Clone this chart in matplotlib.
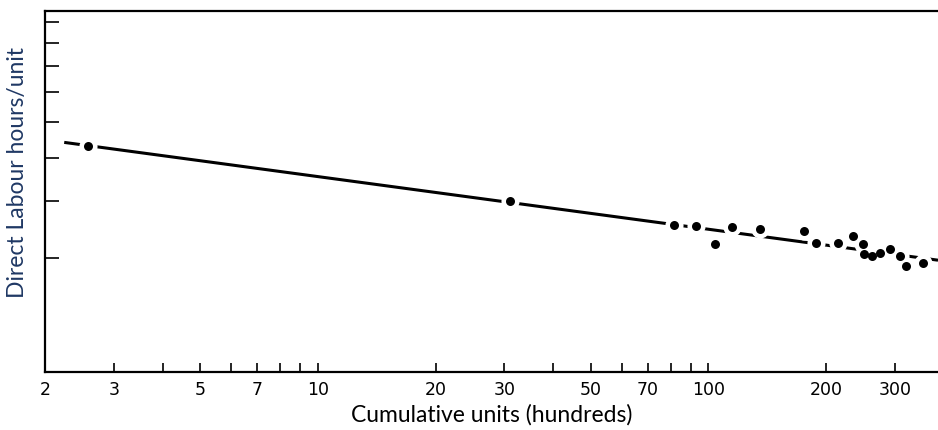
import matplotlib
matplotlib.use('Agg')
import matplotlib.pyplot as plt
from matplotlib.ticker import FixedLocator, NullFormatter, NullLocator

# cumulative units (hundreds) and direct labour hours per unit
units = [2.58, 31.0, 81.7, 93.1, 104, 114.6, 135.8, 176, 188.6, 214.7, 235,
         248.7, 250, 262, 275, 291.6, 310, 321, 355]
hours = [5.32, 4.00, 3.54, 3.53, 3.22, 3.51, 3.48, 3.43, 3.24, 3.24, 3.35,
         3.21, 3.05, 3.03, 3.07, 3.14, 3.03, 2.87, 2.92]

# fitted learning curve, end points
fit_x = [2.24, 387]
fit_y = [5.41, 2.96]

x_ticks = [3, 4, 5, 6, 7, 8, 9, 10, 20, 30, 40, 50, 60, 70, 80, 90, 100, 200, 300]
x_labels = [2, 3, 5, 7, 10, 20, 30, 50, 70, 100, 200, 300]
y_ticks = [3, 4, 5, 6, 7, 8, 9, 10]

fig = plt.figure(figsize=(9.38, 4.30), dpi=100)
ax = fig.add_axes([45 / 938, 1 - 372 / 430, (938 - 45) / 938, (372 - 11) / 430])

ax.set_xscale('log')
ax.set_yscale('log')
ax.set_xlim(2, 387)
ax.set_ylim(1.67, 10.6)

ax.plot(fit_x, fit_y, color='black', lw=2.2, zorder=2, solid_capstyle='butt')
# white halo breaks the line around each point
ax.scatter(units, hours, s=170, color='white', zorder=3, lw=0)
ax.scatter(units, hours, s=42, color='black', zorder=4, lw=0)

ax.xaxis.set_major_locator(FixedLocator(x_ticks))
ax.xaxis.set_minor_locator(NullLocator())
ax.xaxis.set_major_formatter(NullFormatter())
ax.xaxis.set_minor_formatter(NullFormatter())
for v in x_labels:
    ax.text(v, -0.025, str(v), transform=ax.get_xaxis_transform(),
            ha='center', va='top', fontsize=12.5, color='black')

ax.yaxis.set_major_locator(FixedLocator(y_ticks))
ax.yaxis.set_minor_locator(NullLocator())
ax.yaxis.set_major_formatter(NullFormatter())
ax.yaxis.set_minor_formatter(NullFormatter())

ax.tick_params(axis='x', direction='in', length=6.5, width=1.2, color='black')
ax.tick_params(axis='y', direction='in', length=10, width=1.2, color='black')
for side in ['left', 'bottom', 'top']:
    ax.spines[side].set_linewidth(1.6)
    ax.spines[side].set_color('black')
ax.spines['right'].set_visible(False)

fig.text(492 / 938, 1 - 415 / 430, 'Cumulative units (hundreds)', ha='center',
         va='center', fontsize=16.5, family=['Lato', 'DejaVu Sans'], color='black')
fig.text(18 / 938, 1 - 172 / 430, 'Direct Labour hours/unit', ha='center',
         va='center', rotation=90, fontsize=16.5, family=['Lato', 'DejaVu Sans'],
         color='#1f3864')

fig.savefig('out.png', dpi=100)
